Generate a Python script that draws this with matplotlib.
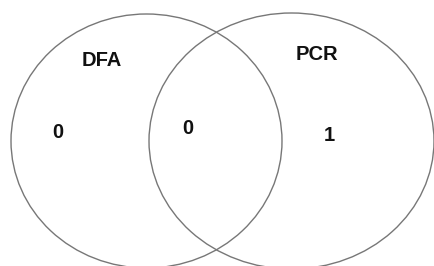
import matplotlib.pyplot as plt
from matplotlib.patches import Ellipse

# Venn data
set_names = ['DFA', 'PCR']
region_counts = [0, 0, 1]  # DFA only, both, PCR only

# layout (pixel coordinates of the original picture), text anchored at baseline
centers = [(146.5, 141), (291.5, 141)]
widths = [271, 285]
heights = [254, 256]
name_pos = [(102, 66.5), (317, 59.5)]
count_pos = [(57.5, 138.3), (187.7, 134), (329, 141.3)]

fig = plt.figure(figsize=(4.35, 2.66), dpi=100)
ax = fig.add_axes([0, 0, 1, 1])
ax.set_xlim(0, 435)
ax.set_ylim(266, 0)
ax.axis('off')

for (cx, cy), w, h in zip(centers, widths, heights):
    ax.add_patch(Ellipse((cx, cy), w, h, fill=False, edgecolor='#777777', linewidth=1.0))

txt_kw = dict(ha='center', va='baseline', fontsize=14.5, fontweight='bold',
              family='Liberation Sans', color='#111111')

for name, (x, y) in zip(set_names, name_pos):
    ax.text(x, y, name, **txt_kw)

for n, (x, y) in zip(region_counts, count_pos):
    ax.text(x, y, str(n), **txt_kw)

fig.savefig('out.png', dpi=100, facecolor='white')
